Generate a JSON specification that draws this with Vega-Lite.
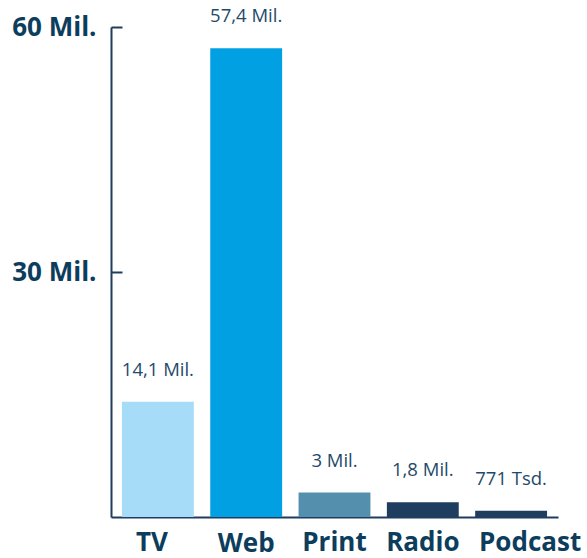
{
  "$schema": "https://vega.github.io/schema/vega-lite/v6.json",
  "width": 447,
  "height": 490,
  "autosize": {"type": "none"},
  "padding": {"left": 111, "top": 27, "right": 29, "bottom": 41},
  "background": "white",
  "config": {"view": {"stroke": null}, "font": "Open Sans"},
  "data": {
    "values": [
      {"medium": "TV", "value": 14.1, "label": "14,1 Mil."},
      {"medium": "Web", "value": 57.4, "label": "57,4 Mil."},
      {"medium": "Print", "value": 3.0, "label": "3 Mil."},
      {"medium": "Radio", "value": 1.8, "label": "1,8 Mil."},
      {"medium": "Podcast", "value": 0.771, "label": "771 Tsd."}
    ]
  },
  "encoding": {
    "x": {
      "field": "medium",
      "type": "nominal",
      "sort": null,
      "scale": {"paddingInner": 0.186, "paddingOuter": 0.124},
      "axis": {
        "title": null,
        "labelAngle": 0,
        "labelFont": "Open Sans",
        "labelFontWeight": "bold",
        "labelFontSize": 26,
        "labelColor": "#0d3d5c",
        "labelPadding": {"condition": {"test": "datum.value === 'Web'", "value": 23}, "value": 22},
        "labelOffset": {"condition": [{"test": "datum.value === 'Podcast'", "value": 19}, {"test": "datum.value === 'TV'", "value": -6}], "value": 0},
        "domainColor": "#1f3d5f",
        "domainWidth": 2,
        "tickSize": -10,
        "tickWidth": 2,
        "tickColor": "#1f3d5f",
        "tickOpacity": 0
      }
    },
    "y": {
      "field": "value",
      "type": "quantitative",
      "scale": {"domain": [0, 60], "nice": false},
      "axis": {
        "title": null,
        "values": [30, 60],
        "labelExpr": "datum.value + ' Mil.'",
        "grid": false,
        "labelFont": "Open Sans",
        "labelFontWeight": "bold",
        "labelFontSize": 26,
        "labelColor": "#0d3d5c",
        "labelPadding": 26,
        "domainColor": "#1f3d5f",
        "domainWidth": 2,
        "tickSize": -11,
        "tickWidth": 2,
        "tickColor": "#1f3d5f"
      }
    }
  },
  "layer": [
    {
      "mark": {"type": "bar"},
      "encoding": {
        "color": {
          "field": "medium",
          "type": "nominal",
          "legend": null,
          "scale": {
            "domain": ["TV", "Web", "Print", "Radio", "Podcast"],
            "range": ["#a6dcf7", "#00a0e3", "#5490ae", "#1f3d5f", "#1f3d5f"]
          }
        }
      }
    },
    {
      "mark": {"type": "text", "baseline": "bottom", "dy": -22, "fontSize": 18.5, "font": "Open Sans", "color": "#1f4a6b"},
      "encoding": {"text": {"field": "label"}}
    }
  ]
}
